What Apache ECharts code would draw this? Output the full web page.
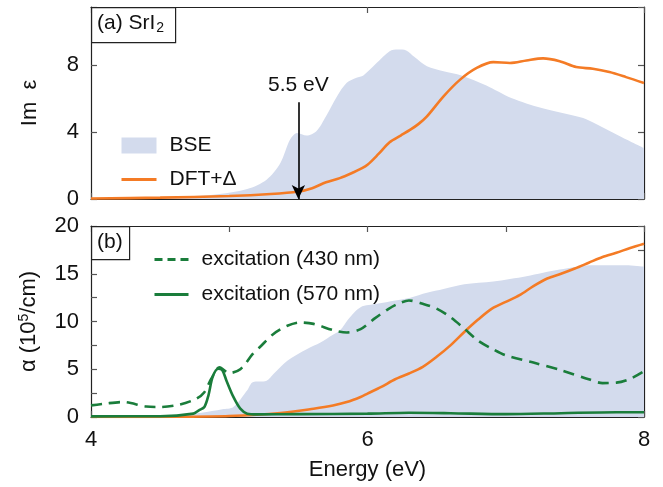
<!DOCTYPE html>
<html><head><meta charset="utf-8">
<script src="https://cdn.jsdelivr.net/npm/echarts@6/dist/echarts.min.js"></script>
<style>html,body{margin:0;padding:0;background:#fff}#c{width:663px;height:487px}</style>
</head><body><div id="c"></div>
<script>
// ---- Data (energy in eV) ----
// Panel (a): Im epsilon
const bseTopE = [4.0,4.5,4.885,5.13,5.27,5.37,5.44,5.49,5.56,5.63,5.7,5.78,5.85,5.92,5.97,6.06,6.16,6.22,6.28,6.34,6.43,6.55,6.68,6.86,7.04,7.26,7.56,7.65,7.84,8.0];
const bseTopV = [0.05,0.12,0.26,0.6,1.16,2.16,3.56,3.96,3.8,4.06,4.96,6.16,6.96,7.26,7.4,8.1,8.85,8.95,8.9,8.5,7.95,7.65,7.4,6.8,6.05,5.45,4.85,4.5,3.7,3.05];
const dftTopE = [4.0,4.5,5.0,5.3,5.5,5.6,5.7,5.8,5.9,5.95,6.0,6.08,6.16,6.24,6.31,6.37,6.43,6.55,6.67,6.79,6.91,7.03,7.15,7.27,7.39,7.51,7.63,7.75,7.87,8.0];
const dftTopV = [0.03,0.08,0.18,0.3,0.45,0.65,1.0,1.25,1.6,1.8,2.05,2.7,3.4,3.8,4.15,4.5,4.95,6.15,7.15,7.85,8.2,8.15,8.3,8.42,8.25,7.9,7.8,7.6,7.3,6.95];
// Panel (b): absorption alpha (10^5/cm)
const bseBotE = [4.0,4.5,4.8,4.95,5.03,5.13,5.17,5.27,5.32,5.42,5.56,5.66,5.75,5.8,5.87,5.95,6.07,6.2,6.31,6.43,6.55,6.7,6.91,7.15,7.39,7.63,7.87,8.0];
const bseBotV = [0.05,0.15,0.45,0.8,1.04,2.8,3.65,3.8,4.5,5.9,7.1,7.8,8.6,9.05,10.4,11.5,11.85,12.2,12.5,13.0,13.4,13.9,14.2,14.75,15.45,15.9,15.9,15.75];
const dftBotE = [4.0,4.64,5.0,5.37,5.61,5.75,5.85,5.95,6.0,6.1,6.2,6.3,6.4,6.5,6.6,6.7,6.8,6.9,7.0,7.1,7.2,7.3,7.4,7.5,7.6,7.7,7.8,7.9,8.0];
const dftBotV = [0.0,0.02,0.1,0.42,0.87,1.2,1.56,2.1,2.45,3.15,3.95,4.55,5.25,6.3,7.5,8.9,10.2,11.35,12.05,12.75,13.7,14.5,15.0,15.55,16.15,16.75,17.2,17.7,18.15];
const exc430E = [4.0,4.1,4.23,4.4,4.5,4.64,4.76,4.82,4.87,4.93,5.0,5.08,5.17,5.22,5.32,5.42,5.51,5.61,5.75,5.85,5.95,6.05,6.15,6.22,6.3,6.4,6.5,6.6,6.7,6.8,6.9,7.0,7.2,7.4,7.6,7.7,7.8,7.9,8.0];
const exc430V = [1.22,1.4,1.57,1.1,1.05,1.3,1.9,2.6,4.0,5.2,4.6,5.0,6.6,7.3,8.7,9.55,9.9,9.75,9.1,8.85,9.2,10.3,11.3,11.85,12.2,11.85,11.35,10.45,9.25,8.0,7.15,6.45,5.7,4.9,3.95,3.55,3.6,4.0,4.8];
const exc570E = [4.0,4.5,4.74,4.78,4.82,4.85,4.88,4.92,4.95,4.98,5.03,5.08,5.13,5.2,5.5,6.0,6.3,6.6,7.0,7.4,7.8,8.0];
const exc570V = [0.07,0.08,0.35,0.7,1.05,2.3,4.2,5.05,4.9,3.8,2.1,0.87,0.35,0.28,0.3,0.35,0.45,0.4,0.3,0.4,0.5,0.5];
// Annotation
const arrowE = 5.5, arrowTop = 5.8, arrowLabel = '5.5 eV';

const zip = (a,b) => a.map((x,i)=>[x,b[i]]);
const FONT = 'Liberation Sans';
const ORANGE = '#f47b25', GREEN = '#1a7d3b', FILL = '#d3dbed', AX = '#222';
const NOSYM = {color:'rgba(0,0,0,0)', borderColor:'rgba(0,0,0,0)', borderWidth:0, opacity:0};

function xAx(grid, pos, interval, show, name){
  return {type:'value', gridIndex:grid, position:pos, min:4, max:8, interval:interval,
    axisLine:{show:true, onZero:false, lineStyle:{color:AX, width:1.2}},
    axisTick:{show:true, inside:true, length:6, lineStyle:{color:'#555', width:1.2}},
    splitLine:{show:false},
    axisLabel:{show:show, margin:12, fontFamily:FONT, fontSize:22, color:'#111',
      formatter:v => (v%2===0 ? String(v) : '')},
    name:name||'', nameLocation:'middle', nameGap:42,
    nameTextStyle:{fontFamily:FONT, fontSize:22, color:'#111'}};
}
function yAx(grid, pos, max, interval, labelStep, show, name, rich){
  return {type:'value', gridIndex:grid, position:pos, min:0, max:max, interval:interval,
    axisLine:{show:true, onZero:false, lineStyle:{color:AX, width:1.2}},
    axisTick:{show:true, inside:true, length:6, lineStyle:{color:'#555', width:1.2}},
    splitLine:{show:false},
    axisLabel:{show:show, margin:12, fontFamily:FONT, fontSize:22, color:'#111', showMaxLabel:true,
      formatter:v => (Math.abs(v/labelStep - Math.round(v/labelStep))<1e-6 ? String(v) : '')},
    name:name||'', nameLocation:'middle', nameGap:50,
    nameTextStyle:{fontFamily:FONT, fontSize:22, color:'#111', rich:rich}};
}

const chart = echarts.init(document.getElementById('c'), null, {renderer:'canvas'});
chart.setOption({
  animation:false,
  backgroundColor:'#fff',
  grid:[
    {left:91, top:7, width:553, height:192},
    {left:91, top:226, width:553, height:191}
  ],
  xAxis:[
    xAx(0,'bottom',2,false),
    xAx(0,'top',2,false),
    xAx(1,'bottom',1,true,'Energy (eV)'),
    xAx(1,'top',1,false)
  ],
  yAxis:[
    yAx(0,'left',11.5,4,4,true,'Im  ε'),
    yAx(0,'right',11.5,4,4,false),
    yAx(1,'left',20,2.5,5,true,'{a|α (10}{s|5}{a|/cm)}',
      {a:{fontFamily:FONT, fontSize:22, color:'#111'}, s:{fontFamily:FONT, fontSize:14, color:'#111', verticalAlign:'top', padding:[0,0,10,0]}}),
    yAx(1,'right',20,2.5,5,false)
  ],
  legend:[
    {orient:'vertical', left:115, top:130, itemWidth:35, itemHeight:16, itemGap:13,
     textStyle:{fontFamily:FONT, fontSize:21, color:'#111', padding:[0,0,0,8]},
     data:[{name:'BSE', icon:'rect'},
           {name:'DFT+Δ', itemStyle:NOSYM, lineStyle:{width:3, color:ORANGE}}]},
    {orient:'vertical', left:148, top:244, itemWidth:34, itemHeight:16, itemGap:14,
     textStyle:{fontFamily:FONT, fontSize:21, color:'#111', padding:[0,0,0,8]},
     data:[{name:'excitation (430 nm)', itemStyle:NOSYM, lineStyle:{width:3, color:GREEN, type:[8,5]}},
           {name:'excitation (570 nm)', itemStyle:NOSYM, lineStyle:{width:3, color:GREEN}}]}
  ],
  graphic:[
    {type:'rect', left:91, top:7, shape:{width:84, height:35}, style:{fill:'#fff', stroke:AX, lineWidth:1.2}, z:100},
    {type:'text', left:97, top:13, z:101, style:{text:'{a|(a) SrI}{s|2}', rich:{a:{fontFamily:FONT, fontSize:21, fill:'#111'}, s:{fontFamily:FONT, fontSize:14, fill:'#111', padding:[10,0,0,1]}}}},
    {type:'rect', left:91, top:226, shape:{width:38, height:33}, style:{fill:'#fff', stroke:AX, lineWidth:1.2}, z:100},
    {type:'text', left:97, top:232, z:101, style:{text:'(b)', fontFamily:FONT, fontSize:21, fill:'#111'}}
  ],
  series:[
    {name:'BSE', type:'line', xAxisIndex:0, yAxisIndex:0, data:zip(bseTopE,bseTopV), smooth:0.3,
     symbol:'none', color:FILL, itemStyle:{color:FILL}, lineStyle:{width:0, color:FILL}, areaStyle:{color:FILL, opacity:1}, z:1},
    {name:'DFT+Δ', type:'line', xAxisIndex:0, yAxisIndex:0, data:zip(dftTopE,dftTopV), smooth:0.3,
     symbol:'none', color:ORANGE, lineStyle:{width:2.6, color:ORANGE}, z:3,
     markLine:{silent:true, symbol:['none','arrow'], symbolSize:[10,14],
       lineStyle:{color:'#000', width:1.6, type:'solid'},
       label:{show:true, position:'start', formatter:arrowLabel, fontFamily:FONT, fontSize:21, color:'#111', distance:6},
       data:[[{coord:[arrowE,arrowTop]},{coord:[arrowE,0]}]]}},
    {name:'BSE α', type:'line', xAxisIndex:2, yAxisIndex:2, data:zip(bseBotE,bseBotV), smooth:0.3,
     symbol:'none', color:FILL, lineStyle:{width:0, color:FILL}, areaStyle:{color:FILL, opacity:1}, z:1},
    {name:'DFT α', type:'line', xAxisIndex:2, yAxisIndex:2, data:zip(dftBotE,dftBotV), smooth:0.3,
     symbol:'none', color:ORANGE, lineStyle:{width:2.6, color:ORANGE}, z:3},
    {name:'excitation (430 nm)', type:'line', xAxisIndex:2, yAxisIndex:2, data:zip(exc430E,exc430V), smooth:0.3,
     symbol:'none', color:GREEN, lineStyle:{width:2.6, color:GREEN, type:[11,7]}, z:4},
    {name:'excitation (570 nm)', type:'line', xAxisIndex:2, yAxisIndex:2, data:zip(exc570E,exc570V), smooth:0.3,
     symbol:'none', color:GREEN, lineStyle:{width:2.6, color:GREEN}, z:4}
  ]
});
</script></body></html>
